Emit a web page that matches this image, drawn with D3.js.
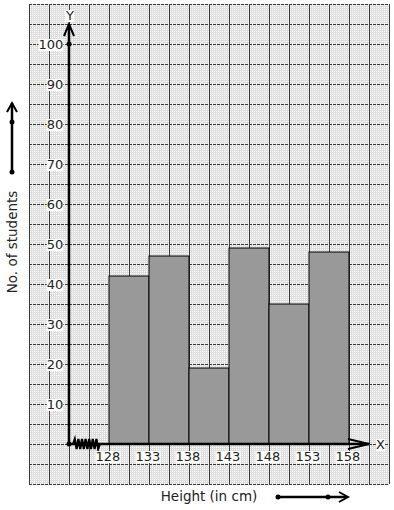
<!DOCTYPE html>
<html><head><meta charset="utf-8">
<script src="https://cdn.jsdelivr.net/npm/d3@7"></script>
<style>body{margin:0;background:#fff}svg{display:block}text{font-family:"DejaVu Sans",sans-serif;fill:#222}</style>
</head><body>
<script>
const classes = ["128-133","133-138","138-143","143-148","148-153","153-158"];
const lower = [128,133,138,143,148,153];
const upper = [133,138,143,148,153,158];
const students = [42,47,19,49,35,48];
const xTicks = [128,133,138,143,148,153,158];
const yTicks = [10,20,30,40,50,60,70,80,90,100];
const xTitle = "Height (in cm)";
const yTitle = "No. of students";

const W=394,H=510;
const svg=d3.select("body").append("svg").attr("width",W).attr("height",H);
const x=d3.scaleLinear().domain([118,163]).range([29,389]);
const y=d3.scaleLinear().domain([-10,110]).range([484,4]);

// minor grid
const g=svg.append("g").attr("shape-rendering","crispEdges");
for(let v=118; v<=163+1e-9; v+=0.25){
  const px=Math.round(x(v))+0.5;
  g.append("line").attr("x1",px).attr("x2",px).attr("y1",4).attr("y2",484)
   .attr("stroke","#dedede").attr("stroke-width",1);
}
for(let v=-10; v<=110+1e-9; v+=0.5){
  const py=Math.round(y(v))+0.5;
  g.append("line").attr("x1",29).attr("x2",389).attr("y1",py).attr("y2",py)
   .attr("stroke","#dedede").attr("stroke-width",1);
}
// major grid
for(let v=118; v<=163+1e-9; v+=2.5){
  const px=Math.round(x(v))+0.5;
  g.append("line").attr("x1",px).attr("x2",px).attr("y1",4).attr("y2",484)
   .attr("stroke","#3a3a3a").attr("stroke-width",1);
}
for(let v=-10; v<=110+1e-9; v+=5){
  const py=Math.round(y(v))+0.5;
  g.append("line").attr("x1",29).attr("x2",389).attr("y1",py).attr("y2",py)
   .attr("stroke","#3a3a3a").attr("stroke-width",1).attr("stroke-dasharray","3,1");
}

// bars
svg.append("g").selectAll("rect").data(students).join("rect")
  .attr("x",(d,i)=>x(lower[i])).attr("width",(d,i)=>x(upper[i])-x(lower[i]))
  .attr("y",d=>y(d)).attr("height",d=>y(0)-y(d))
  .attr("fill","#999").attr("stroke","#000").attr("stroke-width",1);

// axes
const ax=svg.append("g").attr("stroke","#000").attr("fill","none");
const x0=x(123), y0=y(0);
ax.append("line").attr("x1",x0).attr("x2",x0).attr("y1",y0).attr("y2",y(105)).attr("stroke-width",2.5);
ax.append("path").attr("d",`M${x0-5},${y(102.5)+2}L${x0},${y(105)}L${x0+5},${y(102.5)+2}`).attr("stroke-width",2);
ax.append("line").attr("x1",x0).attr("x2",x(160.5)).attr("y1",y0).attr("y2",y0).attr("stroke-width",2.5);
ax.append("path").attr("d",`M${x(157.5)+3},${y0-5}L${x(160.5)},${y0}L${x(157.5)+3},${y0+5}`).attr("stroke-width",2);
// zigzag
let zz=`M${x0},${y0}L${x0+4},${y0}`;
for(let i=0;i<7;i++){const bx=x0+4+i*3.6; zz+=`L${bx+1.8},${y0-5}L${bx+3.6},${y0+5}`;}
zz+=`L${x0+31},${y0}`;
ax.append("path").attr("d",zz).attr("stroke-width",2.2);
svg.append("circle").attr("cx",x0).attr("cy",y0).attr("r",2.5).attr("fill","#000");
svg.append("circle").attr("cx",x0).attr("cy",y(100)).attr("r",2.5).attr("fill","#000");

function label(t,px,py,anchor){
  const tx=svg.append("text").attr("x",px).attr("y",py).attr("text-anchor",anchor).attr("font-size",13).text(t);
  const b=tx.node().getBBox();
  svg.insert("rect",()=>tx.node()).attr("x",b.x).attr("y",b.y+2).attr("width",b.width).attr("height",b.height-3).attr("fill","#fff");
}
yTicks.forEach(v=>label(String(v),x(122.3),y(v)+5,"end"));
xTicks.forEach(v=>label(String(v),x(v)-1,y0+17,"middle"));
label("Y",x0+1,y(109)+12,"middle");
label("X",x(161.8)+1,y0+5,"middle");

// titles
svg.append("text").attr("transform",`translate(17,242) rotate(-90)`).attr("text-anchor","middle").attr("font-size",13.5).text(yTitle);
svg.append("text").attr("x",x(140.5)).attr("y",501).attr("text-anchor","middle").attr("font-size",13.5).text(xTitle);

// side arrows
const sa=svg.append("g").attr("stroke","#000").attr("fill","none").attr("stroke-width",2.5);
sa.append("line").attr("x1",12).attr("x2",12).attr("y1",172).attr("y2",103);
sa.append("path").attr("d","M7,112L12,103L17,112").attr("stroke-width",2);
svg.append("circle").attr("cx",12).attr("cy",122).attr("r",2.5).attr("fill","#000");
svg.append("circle").attr("cx",12).attr("cy",172).attr("r",2.5).attr("fill","#000");
sa.append("line").attr("x1",278).attr("x2",346).attr("y1",497).attr("y2",497);
sa.append("path").attr("d","M339,492L348,497L339,502").attr("stroke-width",2);
svg.append("circle").attr("cx",278).attr("cy",497).attr("r",2.5).attr("fill","#000");
svg.append("circle").attr("cx",328).attr("cy",497).attr("r",2.5).attr("fill","#000");
</script>
</body></html>
